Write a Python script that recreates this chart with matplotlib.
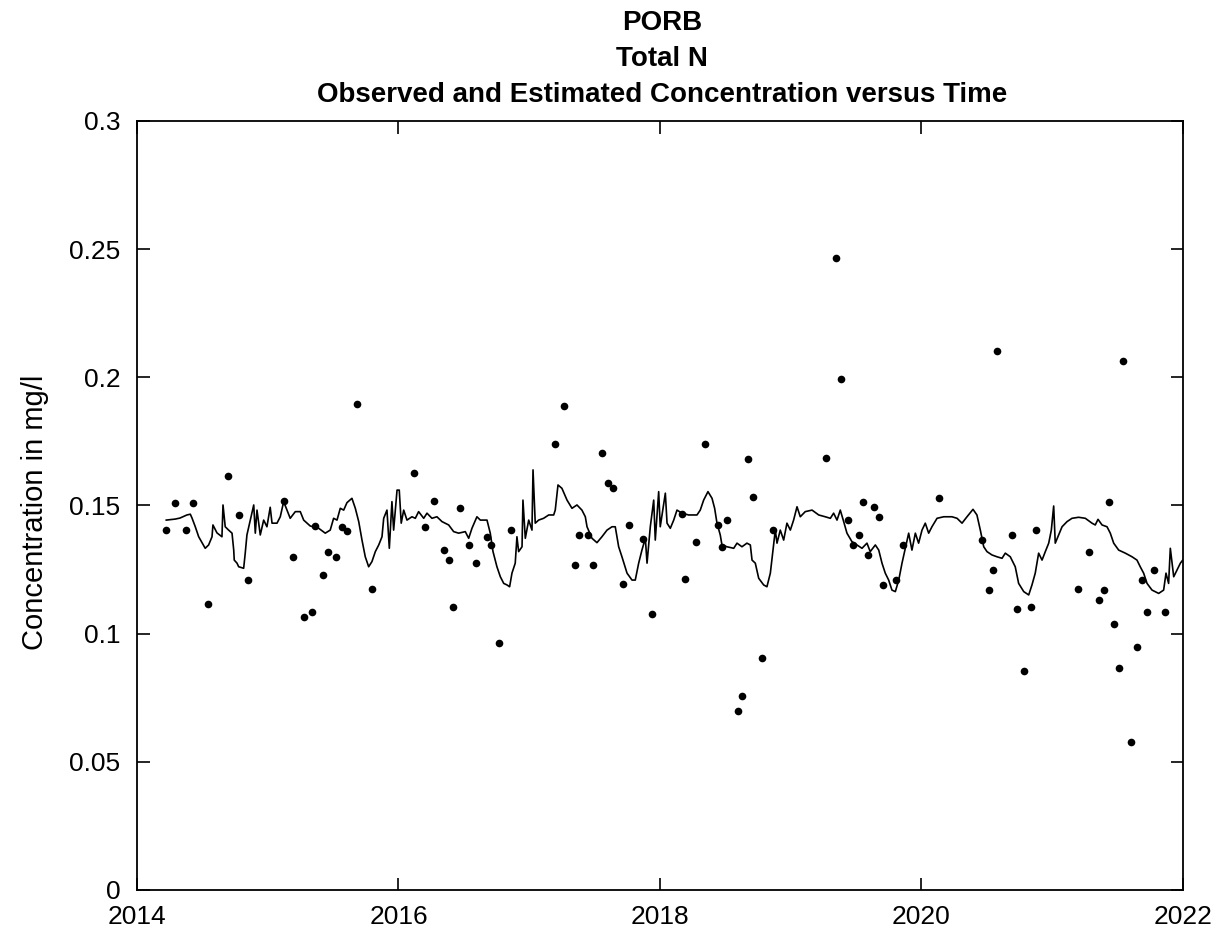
import numpy as np
import matplotlib
matplotlib.use("Agg")
import matplotlib.pyplot as plt

plt.rcParams['font.family'] = ['Liberation Sans', 'DejaVu Sans']

# observed samples (decimal year, mg/l)
obs_year = [2014.222, 2014.291, 2014.372, 2014.431, 2014.545, 2014.694, 2014.778, 2014.849,
            2015.124, 2015.193, 2015.275, 2015.336, 2015.364, 2015.425, 2015.459, 2015.520,
            2015.568, 2015.604, 2015.680, 2015.797, 2016.119, 2016.200, 2016.269, 2016.350,
            2016.386, 2016.419, 2016.468, 2016.537, 2016.593, 2016.675, 2016.710, 2016.766,
            2016.860, 2017.197, 2017.266, 2017.348, 2017.380, 2017.452, 2017.485, 2017.556,
            2017.600, 2017.638, 2017.717, 2017.765, 2017.868, 2017.937, 2018.168, 2018.191,
            2018.273, 2018.342, 2018.446, 2018.476, 2018.515, 2018.598, 2018.631, 2018.675,
            2018.714, 2018.782, 2018.867, 2019.267, 2019.346, 2019.382, 2019.440, 2019.478,
            2019.522, 2019.555, 2019.593, 2019.639, 2019.673, 2019.708, 2019.803, 2019.861,
            2020.136, 2020.460, 2020.516, 2020.549, 2020.577, 2020.690, 2020.728, 2020.783,
            2020.840, 2020.876, 2021.199, 2021.281, 2021.360, 2021.396, 2021.432, 2021.475,
            2021.513, 2021.543, 2021.602, 2021.651, 2021.684, 2021.722, 2021.778, 2021.860]
obs_conc = [0.1404, 0.1509, 0.1404, 0.1509, 0.1116, 0.1615, 0.1464, 0.1208,
            0.1516, 0.1300, 0.1065, 0.1083, 0.1421, 0.1228, 0.1320, 0.1300,
            0.1417, 0.1402, 0.1896, 0.1175, 0.1628, 0.1417, 0.1516, 0.1326,
            0.1287, 0.1104, 0.1490, 0.1346, 0.1275, 0.1378, 0.1346, 0.0965,
            0.1404, 0.1739, 0.1889, 0.1268, 0.1385, 0.1385, 0.1268, 0.1706,
            0.1589, 0.1569, 0.1195, 0.1424, 0.1368, 0.1077, 0.1466, 0.1214,
            0.1359, 0.1739, 0.1424, 0.1339, 0.1443, 0.0697, 0.0757, 0.1680,
            0.1534, 0.0906, 0.1404, 0.1687, 0.2464, 0.1994, 0.1443, 0.1346,
            0.1385, 0.1515, 0.1307, 0.1495, 0.1456, 0.1189, 0.1208, 0.1346,
            0.1530, 0.1365, 0.1169, 0.1247, 0.2103, 0.1385, 0.1097, 0.0854,
            0.1104, 0.1404, 0.1175, 0.1320, 0.1130, 0.1169, 0.1515, 0.1038,
            0.0867, 0.2064, 0.0579, 0.0947, 0.1208, 0.1085, 0.1247, 0.1085]

# estimated daily concentration
est_year = [2014.224, 2014.293, 2014.329, 2014.382, 2014.408, 2014.421, 2014.446, 2014.472,
            2014.522, 2014.548, 2014.574, 2014.581, 2014.612, 2014.650, 2014.658, 2014.675,
            2014.701, 2014.727, 2014.740, 2014.744, 2014.765, 2014.778, 2014.816, 2014.828,
            2014.841, 2014.867, 2014.893, 2014.905, 2014.918, 2014.943, 2014.969, 2014.994,
            2015.019, 2015.033, 2015.071, 2015.096, 2015.122, 2015.147, 2015.172, 2015.211,
            2015.249, 2015.275, 2015.325, 2015.390, 2015.440, 2015.478, 2015.504, 2015.530,
            2015.555, 2015.581, 2015.606, 2015.644, 2015.670, 2015.696, 2015.721, 2015.746,
            2015.772, 2015.797, 2015.823, 2015.849, 2015.874, 2015.887, 2015.912, 2015.930,
            2015.950, 2015.963, 2015.989, 2016.006, 2016.021, 2016.040, 2016.065, 2016.103,
            2016.129, 2016.154, 2016.193, 2016.218, 2016.256, 2016.294, 2016.333, 2016.384,
            2016.422, 2016.460, 2016.511, 2016.537, 2016.562, 2016.600, 2016.626, 2016.652,
            2016.677, 2016.702, 2016.723, 2016.753, 2016.779, 2016.805, 2016.830, 2016.850,
            2016.868, 2016.893, 2016.906, 2016.919, 2016.945, 2016.952, 2016.970, 2016.996,
            2017.021, 2017.029, 2017.046, 2017.072, 2017.110, 2017.149, 2017.187, 2017.199,
            2017.220, 2017.250, 2017.289, 2017.327, 2017.365, 2017.403, 2017.429, 2017.442,
            2017.480, 2017.518, 2017.556, 2017.595, 2017.633, 2017.658, 2017.684, 2017.709,
            2017.748, 2017.786, 2017.811, 2017.837, 2017.862, 2017.888, 2017.901, 2017.926,
            2017.952, 2017.964, 2017.990, 2018.002, 2018.041, 2018.054, 2018.079, 2018.105,
            2018.130, 2018.168, 2018.219, 2018.283, 2018.308, 2018.334, 2018.367, 2018.398,
            2018.418, 2018.436, 2018.461, 2018.474, 2018.512, 2018.564, 2018.589, 2018.627,
            2018.665, 2018.691, 2018.704, 2018.729, 2018.755, 2018.793, 2018.818, 2018.844,
            2018.862, 2018.882, 2018.895, 2018.920, 2018.946, 2018.971, 2018.997, 2019.022,
            2019.048, 2019.073, 2019.111, 2019.163, 2019.214, 2019.264, 2019.303, 2019.328,
            2019.354, 2019.379, 2019.405, 2019.430, 2019.468, 2019.507, 2019.545, 2019.583,
            2019.608, 2019.647, 2019.673, 2019.698, 2019.723, 2019.749, 2019.774, 2019.800,
            2019.826, 2019.851, 2019.876, 2019.902, 2019.927, 2019.953, 2019.978, 2020.004,
            2020.029, 2020.055, 2020.080, 2020.119, 2020.170, 2020.233, 2020.272, 2020.310,
            2020.348, 2020.394, 2020.424, 2020.450, 2020.476, 2020.501, 2020.539, 2020.577,
            2020.616, 2020.641, 2020.679, 2020.717, 2020.743, 2020.782, 2020.820, 2020.845,
            2020.870, 2020.896, 2020.922, 2020.947, 2020.973, 2020.993, 2021.011, 2021.023,
            2021.049, 2021.075, 2021.113, 2021.151, 2021.202, 2021.253, 2021.304, 2021.329,
            2021.350, 2021.381, 2021.419, 2021.444, 2021.470, 2021.508, 2021.559, 2021.610,
            2021.648, 2021.673, 2021.699, 2021.725, 2021.763, 2021.814, 2021.852, 2021.870,
            2021.890, 2021.903, 2021.929, 2021.954, 2021.980, 2021.998]
est_conc = [0.1443, 0.1447, 0.1451, 0.1463, 0.1466, 0.1451, 0.1417, 0.1378,
            0.1333, 0.1346, 0.1378, 0.1424, 0.1393, 0.1378, 0.1502, 0.1417,
            0.1404, 0.1392, 0.1326, 0.1287, 0.1275, 0.1261, 0.1255, 0.1314,
            0.1385, 0.1443, 0.1502, 0.1392, 0.1482, 0.1385, 0.1443, 0.1417,
            0.1493, 0.1431, 0.1431, 0.1456, 0.1515, 0.1482, 0.1450, 0.1476,
            0.1476, 0.1443, 0.1420, 0.1411, 0.1392, 0.1404, 0.1450, 0.1443,
            0.1489, 0.1482, 0.1511, 0.1528, 0.1489, 0.1437, 0.1365, 0.1300,
            0.1261, 0.1281, 0.1320, 0.1346, 0.1378, 0.1450, 0.1482, 0.1333,
            0.1515, 0.1404, 0.1560, 0.1560, 0.1431, 0.1482, 0.1443, 0.1456,
            0.1450, 0.1476, 0.1450, 0.1470, 0.1450, 0.1456, 0.1437, 0.1424,
            0.1398, 0.1392, 0.1398, 0.1372, 0.1411, 0.1456, 0.1443, 0.1443,
            0.1443, 0.1392, 0.1320, 0.1261, 0.1222, 0.1196, 0.1190, 0.1183,
            0.1236, 0.1275, 0.1378, 0.1320, 0.1339, 0.1521, 0.1372, 0.1443,
            0.1404, 0.1639, 0.1431, 0.1443, 0.1450, 0.1463, 0.1463, 0.1482,
            0.1580, 0.1567, 0.1521, 0.1489, 0.1502, 0.1482, 0.1456, 0.1417,
            0.1372, 0.1355, 0.1378, 0.1404, 0.1417, 0.1417, 0.1339, 0.1300,
            0.1236, 0.1209, 0.1209, 0.1275, 0.1326, 0.1372, 0.1275, 0.1417,
            0.1521, 0.1365, 0.1554, 0.1417, 0.1548, 0.1431, 0.1411, 0.1443,
            0.1482, 0.1470, 0.1463, 0.1463, 0.1482, 0.1521, 0.1554, 0.1528,
            0.1489, 0.1431, 0.1385, 0.1346, 0.1339, 0.1333, 0.1353, 0.1339,
            0.1353, 0.1346, 0.1287, 0.1275, 0.1216, 0.1190, 0.1183, 0.1236,
            0.1314, 0.1404, 0.1353, 0.1404, 0.1365, 0.1431, 0.1404, 0.1443,
            0.1495, 0.1456, 0.1476, 0.1482, 0.1463, 0.1456, 0.1450, 0.1470,
            0.1443, 0.1482, 0.1437, 0.1392, 0.1359, 0.1346, 0.1333, 0.1353,
            0.1320, 0.1346, 0.1326, 0.1275, 0.1236, 0.1209, 0.1170, 0.1164,
            0.1209, 0.1275, 0.1333, 0.1392, 0.1326, 0.1392, 0.1353, 0.1404,
            0.1431, 0.1392, 0.1417, 0.1450, 0.1456, 0.1456, 0.1450, 0.1431,
            0.1456, 0.1485, 0.1463, 0.1404, 0.1339, 0.1320, 0.1307, 0.1300,
            0.1294, 0.1314, 0.1300, 0.1261, 0.1196, 0.1164, 0.1151, 0.1190,
            0.1236, 0.1314, 0.1287, 0.1320, 0.1353, 0.1404, 0.1498, 0.1353,
            0.1385, 0.1417, 0.1437, 0.1450, 0.1454, 0.1450, 0.1431, 0.1424,
            0.1446, 0.1424, 0.1417, 0.1392, 0.1353, 0.1326, 0.1314, 0.1300,
            0.1287, 0.1261, 0.1236, 0.1196, 0.1170, 0.1157, 0.1170, 0.1236,
            0.1196, 0.1333, 0.1222, 0.1248, 0.1275, 0.1287]

x_ticks = [2014, 2016, 2018, 2020, 2022]
y_ticks = [0, 0.05, 0.1, 0.15, 0.2, 0.25, 0.3]
y_tick_labels = ["0", "0.05", "0.1", "0.15", "0.2", "0.25", "0.3"]
title_lines = ["PORB", "Total N", "Observed and Estimated Concentration versus Time"]

fig = plt.figure(figsize=(12.24, 9.40), dpi=100)
ax = fig.add_axes([0.1119, 0.0532, 0.8546, 0.8181])

ax.plot(est_year, est_conc, color="black", lw=1.2)
ax.plot(obs_year, obs_conc, "o", color="black", ms=5.5, mew=0)

ax.set_xlim(2014, 2022)
ax.set_ylim(0, 0.3)
ax.set_xticks(x_ticks)
ax.set_xticklabels([str(t) for t in x_ticks])
ax.set_yticks(y_ticks)
ax.set_yticklabels(y_tick_labels)
ax.tick_params(direction="in", length=9, width=1.2, labelsize=19,
               top=True, right=True)
ax.tick_params(axis="y", pad=12)
ax.tick_params(axis="x", pad=11)
for s in ax.spines.values():
    s.set_linewidth(1.3)

fig.text(35 / 1224, 1 - 512 / 940, "Concentration in mg/l", rotation=90,
         ha="center", va="center", fontsize=21)

title_y = [0.975, 0.937, 0.899]
for txt, yy in zip(title_lines, title_y):
    fig.text(0.541, yy, txt, ha="center", va="center", fontsize=20, fontweight="bold")

fig.savefig("out.png", dpi=100)
